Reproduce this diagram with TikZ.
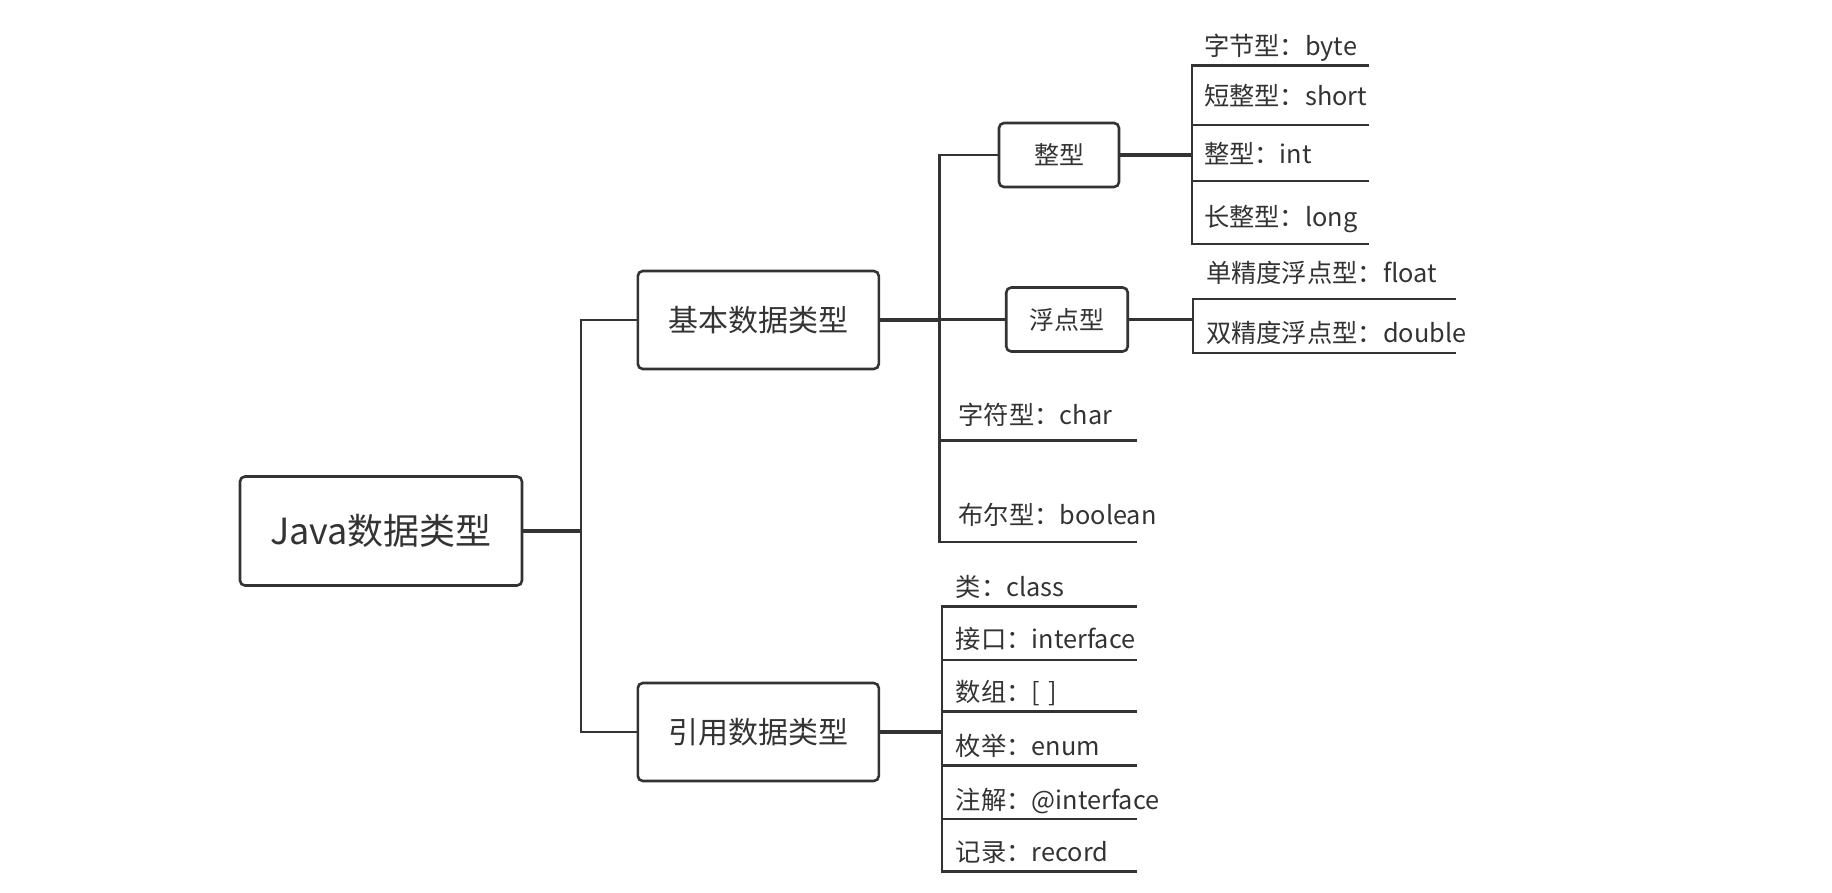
\documentclass[tikz,border=0pt]{standalone}
\usepackage{fontspec}
\newfontfamily\cjk{Noto Sans CJK SC}
\definecolor{ink}{HTML}{333333}
\begin{document}
\begin{tikzpicture}[x=1pt,y=-1pt,
  ln/.style={draw=ink,line width=2.4pt,line cap=rect},
  thk/.style={draw=ink,line width=3.4pt},
  box/.style={draw=ink,line width=2.6pt,rounded corners=5pt,fill=white,text=ink,inner sep=0pt},
  big/.style={box,minimum width=282pt,minimum height=109pt,font=\cjk\fontsize{36}{42}\selectfont},
  mid/.style={box,minimum width=241pt,minimum height=98pt,font=\cjk\fontsize{30}{36}\selectfont},
  sml/.style={box,minimum height=64pt,font=\cjk\fontsize{25}{30}\selectfont},
  leaf/.style={anchor=south west,inner ysep=#1,text=ink,font=\cjk\fontsize{25.3}{30}\selectfont,text height=20pt,text depth=6pt,align=left},
  gz/.style={inner xsep=12pt,text width=152pt},
  gf/.style={inner xsep=12.8pt,text width=236pt},
  gc/.style={inner xsep=19pt,text width=158pt},
  gr/.style={inner xsep=14pt,text width=166pt}
]
\useasboundingbox (0,0) rectangle (1832,893);

% main boxes
\node[big] (java) at (381,531) {Java数据类型};
\node[mid] (jb) at (758.3,320) {基本数据类型};
\node[mid] (yy) at (758.3,732) {引用数据类型};
\node[sml,minimum width=120pt] (zx) at (1059,155) {整型};
\node[sml,minimum width=121.5pt] (fd) at (1067,319.5) {浮点型};

% leaves
\node[leaf=3.2,gz] (b1) at (1191.8,65.4) {字节型：byte};
\node[leaf=13.7,gz] (b2) at (1191.8,125) {短整型：short};
\node[leaf=11.3,gz] (b3) at (1191.8,181) {整型：int};
\node[leaf=11.4,gz] (b4) at (1191.8,244.2) {长整型：long};
\node[leaf=10,gf] (f1) at (1193,299) {单精度浮点型：float};
\node[leaf=4.4,gf] (f2) at (1193,352.9) {双精度浮点型：double};
\node[leaf=10,gc] (ch) at (939.4,440.5) {字符型：char};
\node[leaf=11,gc] (bo) at (939.4,542) {布尔型：boolean};
\node[leaf=3.5,gr] (r1) at (941.7,606.4) {类：class};
\node[leaf=5,gr] (r2) at (941.7,660) {接口：interface};
\node[leaf=3.5,gr] (r3) at (941.7,711.6) {数组：[ ]};
\node[leaf=3.5,gr] (r4) at (941.7,765.3) {枚举：enum};
\node[leaf=3.5,gr] (r5) at (941.7,819) {注解：@interface};
\node[leaf=3.5,gr] (r6) at (941.7,871.6) {记录：record};

% underlines
\foreach \n in {b1,b2,b3,b4,f1,f2,ch,bo,r1,r2,r3,r4,r5,r6}
  \draw[ln] (\n.south west) -- (\n.south east);

% level 1
\coordinate (v1) at (580.7,531);
\draw[thk] (java.east) -- (v1);
\draw[ln] (jb.west) -| (v1) |- (yy.west);

% basic types
\draw[thk] (jb.east) -- (jb.east -| bo.south west);
\draw[ln] (zx.west) -| (bo.south west);
\draw[ln] (fd.west) -- (fd.west -| bo.south west);

% integer group
\draw[thk] (zx.east) -- (zx.east -| b1.south west);
\draw[ln] (b1.south west) -- (b4.south west);

% float group
\draw[thk] (fd.east) -- (fd.east -| f1.south west);
\draw[ln] (f1.south west) -- (f2.south west);

% reference group
\draw[thk] (yy.east) -- (yy.east -| r1.south west);
\draw[ln] (r1.south west) -- (r6.south west);
\end{tikzpicture}
\end{document}
